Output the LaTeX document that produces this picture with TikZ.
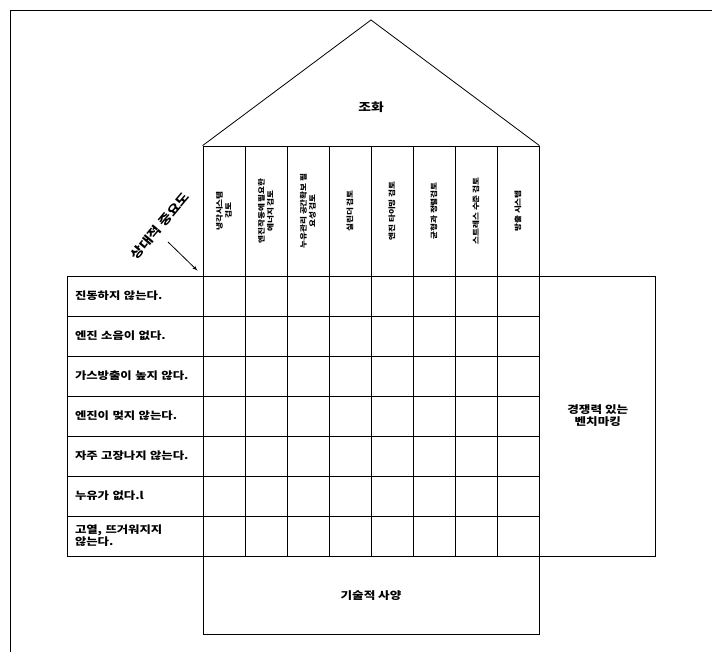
\documentclass[tikz,border=0pt]{standalone}
\usepackage{fontspec}
\setmainfont{Noto Sans CJK KR}[FakeStretch=1.2]
\usepackage{tikz}
\usetikzlibrary{arrows,positioning}
\tikzstyle{header} = [draw, rectangle, rotate=90, minimum width=130pt, minimum height=42pt, inner sep=1pt, align=center, font=\fontsize{7.2}{9}\selectfont\bfseries]
\tikzstyle{want} = [draw, rectangle, minimum width=136pt, minimum height=40pt, inner xsep=8pt, text width=120pt, align=left, font=\fontsize{10.3}{12}\selectfont\bfseries]
\tikzstyle{cell} = [draw, rectangle, minimum width=42pt, minimum height=40pt]
\tikzstyle{bigbox} = [draw, rectangle, align=center, font=\fontsize{10.5}{12}\selectfont\bfseries]

\begin{document}
\begin{tikzpicture}[x=1pt, y=1pt, >=latex', line width=0.8pt]
    \useasboundingbox (0,0) rectangle (712,652);
    % page frame
    \draw (10,-5) -- (10,642) -- (720,642);
    % roof columns
    \node [header] (h1) at (224,441) {냉각시스템\\검토};
    \node [header] (h2) at ([xshift=42pt]h1) {엔진작동에 필요한\\에너지 검토};
    \node [header] (h3) at ([xshift=42pt]h2) {누유관리 공간확보 필\\요성 검토};
    \node [header] (h4) at ([xshift=42pt]h3) {실린더 검토};
    \node [header] (h5) at ([xshift=42pt]h4) {엔진 타이밍 검토};
    \node [header] (h6) at ([xshift=42pt]h5) {균형과 정렬검토};
    \node [header] (h7) at ([xshift=42pt]h6) {스트레스 수준 검토};
    \node [header] (h8) at ([xshift=42pt]h7) {방출 시스템};
    \coordinate (apex) at (371,632);
    \draw (h1.north east) -- (apex) -- (h8.south east);
    \node [font=\fontsize{11.5}{13}\selectfont\bfseries] (harmony) at (371,545) {조화};
    % customer wants
    \node [want] (r1) at (135,356) {진동하지 않는다.};
    \node [want, below of=r1, node distance=40pt] (r2) {엔진 소음이 없다.};
    \node [want, below of=r2, node distance=40pt] (r3) {가스방출이 높지 않다.};
    \node [want, below of=r3, node distance=40pt] (r4) {엔진이 멎지 않는다.};
    \node [want, below of=r4, node distance=40pt] (r5) {자주 고장나지 않는다.};
    \node [want, below of=r5, node distance=40pt] (r6) {누유가 없다.l};
    \node [want, below of=r6, node distance=40pt] (r7) {고열, 뜨거워지지\\않는다.};
    % relationship matrix
    \foreach \i in {1,...,7}
      \foreach \j in {1,...,8}
        \node [cell] (c\i\j) at (h\j |- r\i) {};
    \node [bigbox, minimum width=116pt, minimum height=280pt, anchor=north west] (bench) at (c18.north east) {경쟁력 있는\\벤치마킹};
    \node [bigbox, minimum width=336pt, minimum height=78pt, anchor=north west] (spec) at (c71.south west) {기술적 사양};
    % importance label
    \node [rotate=50, font=\fontsize{12}{14}\selectfont\bfseries] (imp) at (160,426) {상대적 중요도};
    \coordinate (imptail) at (168,410);
    \draw [->, shorten >=7pt] (imptail) -- (c11.north west);
\end{tikzpicture}
\end{document}
